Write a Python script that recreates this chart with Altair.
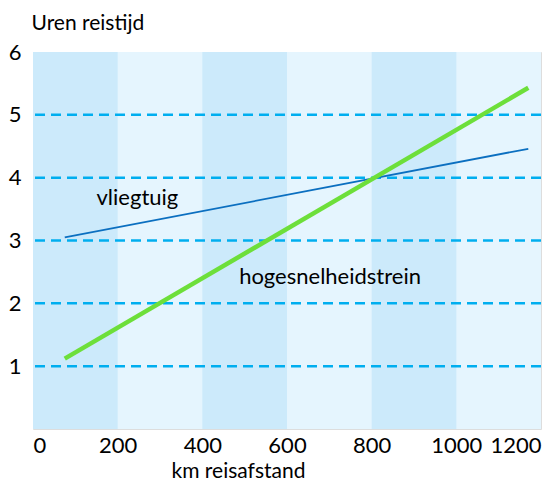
import altair as alt
import pandas as pd

# data
km_start_end = [75, 1170]
plane_hours = [3.05, 4.46]
train_hours = [1.12, 5.43]
band_starts = [0, 400, 800]
band_ends = [200, 600, 1000]
light_starts = [0]
light_ends = [1200]
grid_hours = [1, 2, 3, 4, 5]
label_texts = ["vliegtuig", "hogesnelheidstrein"]
label_km = [150, 487]
label_hours = [3.68, 2.42]

FONT = "Lato"

lines_df = pd.DataFrame({
    "km": km_start_end * 2,
    "uren": plane_hours + train_hours,
    "serie": ["vliegtuig"] * 2 + ["hogesnelheidstrein"] * 2,
})
bands_df = pd.DataFrame({"x0": band_starts, "x1": band_ends})
light_df = pd.DataFrame({"x0": light_starts, "x1": light_ends})
grid_df = pd.DataFrame({"y": grid_hours})
labels_df = pd.DataFrame({"t": label_texts, "km": label_km, "uren": label_hours})

xscale = alt.Scale(domain=[0, 1200], nice=False, zero=False)
yscale = alt.Scale(domain=[0, 6], nice=False)

xaxis = alt.Axis(
    values=[0, 200, 400, 600, 800, 1000, 1200], title="km reisafstand", format="d",
    labelFont=FONT, labelFontSize=22, labelColor="black", labelPadding=6,
    labelFlush=True, ticks=False, domain=False, grid=False,
    titleFont=FONT, titleFontSize=21, titleFontWeight="normal", titleColor="black",
    titleX=205, titleY=42, titleBaseline="middle", titleAlign="center",
)
yaxis = alt.Axis(
    values=[1, 2, 3, 4, 5, 6], title="Uren reistijd", format="d",
    labelFont=FONT, labelFontSize=22, labelColor="black", labelPadding=12,
    ticks=False, domain=False, grid=False,
    titleFont=FONT, titleFontSize=21, titleFontWeight="normal", titleColor="black",
    titleAngle=0, titleX=-2, titleY=-29, titleAlign="left", titleBaseline="middle",
)

light = alt.Chart(light_df).mark_rect(color="#e5f5fe").encode(
    x=alt.X("x0:Q", scale=xscale, axis=xaxis),
    x2="x1:Q",
    y=alt.datum(0, scale=yscale, axis=yaxis),
    y2=alt.datum(6),
)

bands = alt.Chart(bands_df).mark_rect(color="#cceafb").encode(
    x=alt.X("x0:Q", scale=xscale),
    x2="x1:Q",
    y=alt.datum(0, scale=yscale),
    y2=alt.datum(6),
)

grid = alt.Chart(grid_df).mark_rule(
    color="#00aeef", strokeWidth=2.5, strokeDash=[10, 6]
).encode(y=alt.Y("y:Q", scale=yscale))

plane = alt.Chart(lines_df).transform_filter(alt.datum.serie == "vliegtuig").mark_line(
    color="#0b6fc0", strokeWidth=1.8
).encode(x=alt.X("km:Q", scale=xscale), y=alt.Y("uren:Q", scale=yscale))

train = alt.Chart(lines_df).transform_filter(alt.datum.serie == "hogesnelheidstrein").mark_line(
    color="#6ddf3a", strokeWidth=4.5
).encode(x=alt.X("km:Q", scale=xscale), y=alt.Y("uren:Q", scale=yscale))

labels = alt.Chart(labels_df).mark_text(
    font=FONT, fontSize=22, color="black", align="left", baseline="middle"
).encode(x=alt.X("km:Q", scale=xscale), y=alt.Y("uren:Q", scale=yscale), text="t:N")

chart = alt.layer(light, bands, grid, plane, train, labels).properties(
    width=508, height=377,
).configure_view(stroke=None).configure(
    background="white", padding={"top": 4, "left": 0, "right": 0, "bottom": 0}
)

chart.save("out.html", embed_options={"renderer": "svg", "actions": False})
